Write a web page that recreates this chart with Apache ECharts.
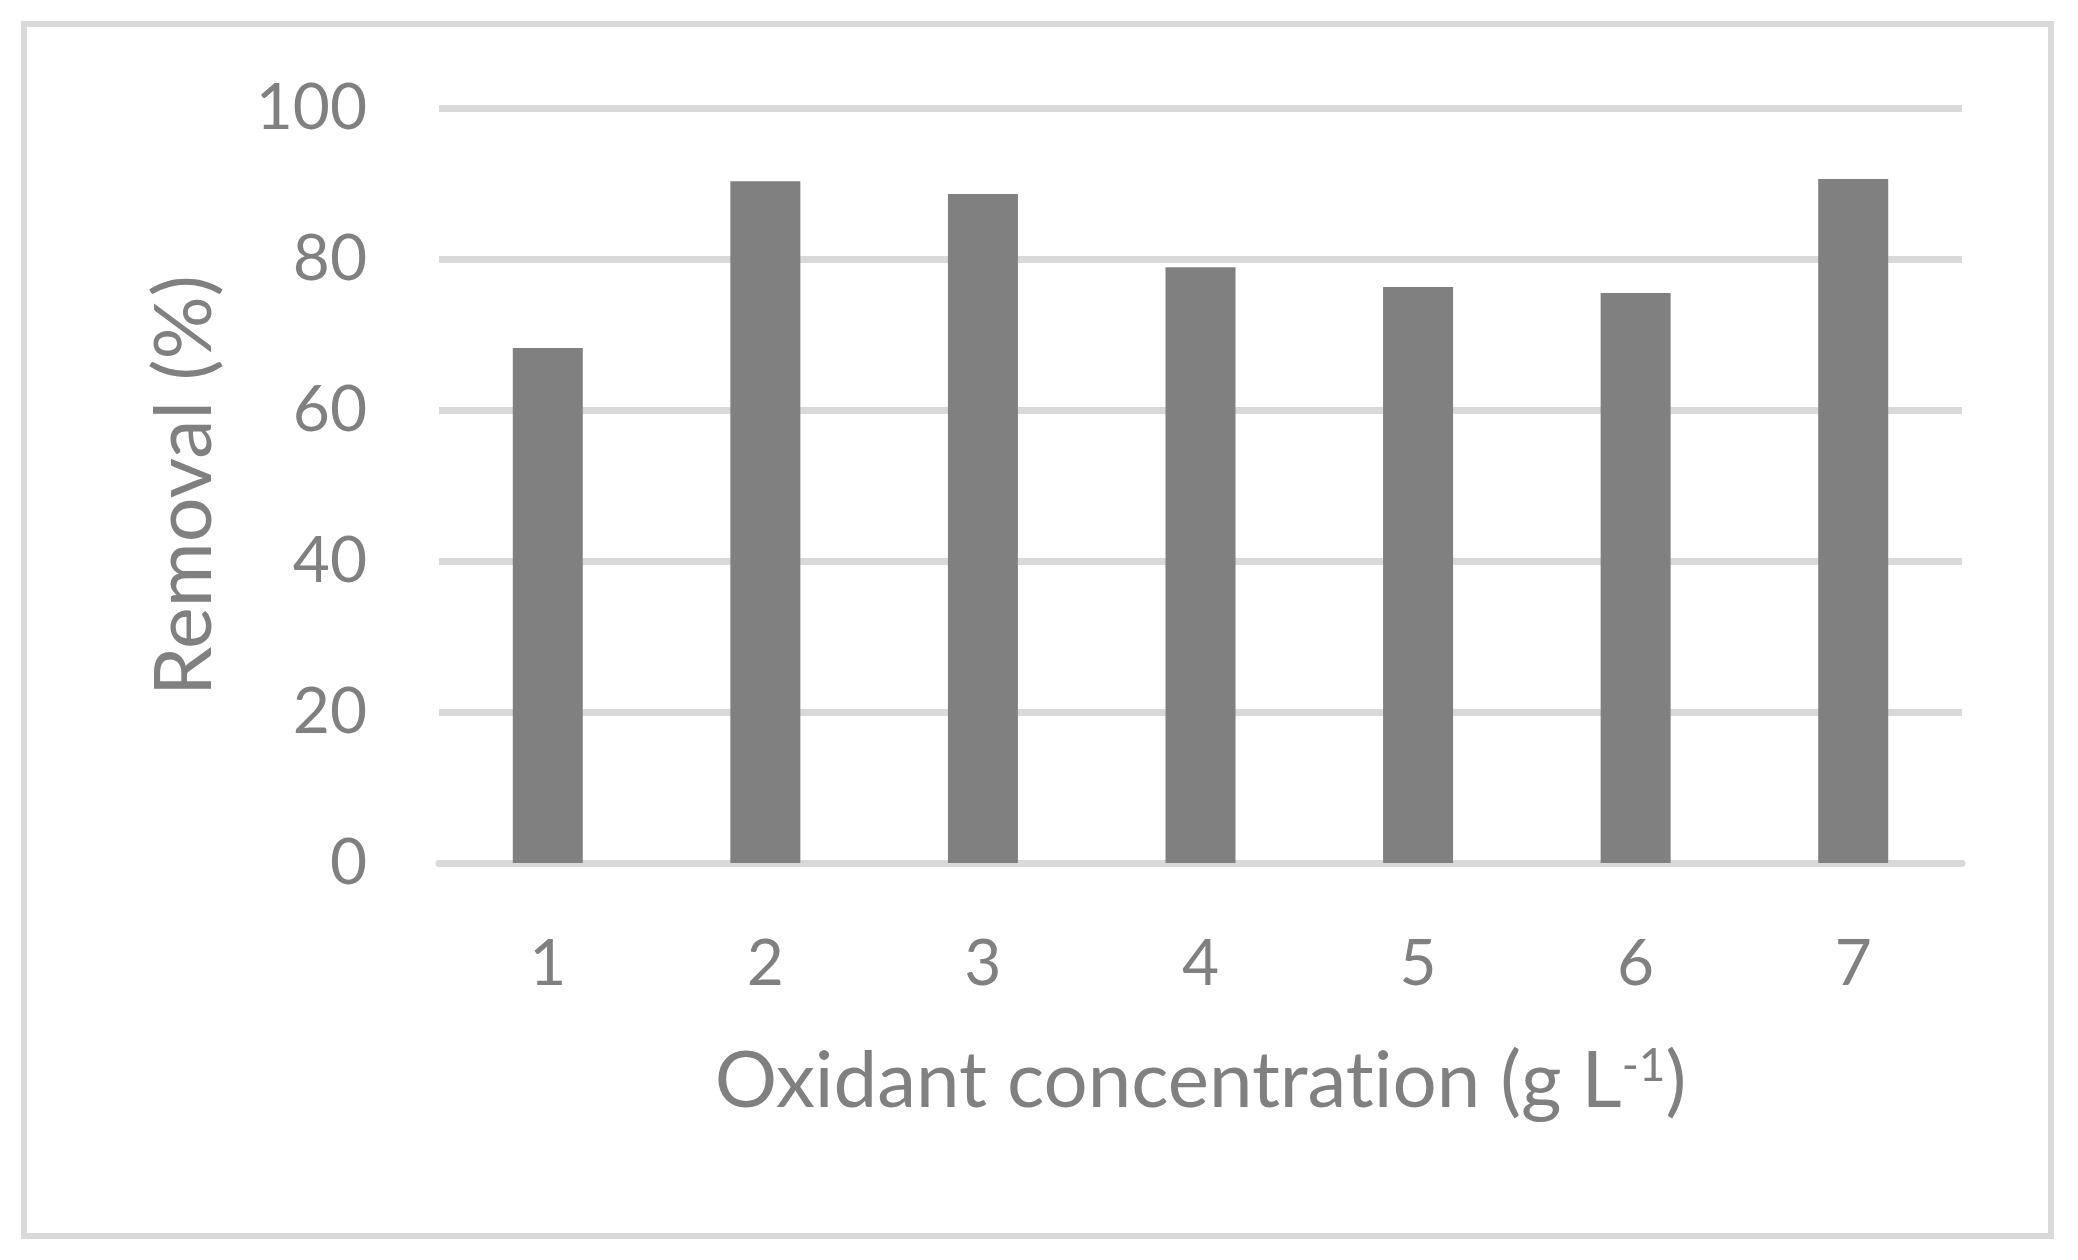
<!DOCTYPE html>
<html>
<head>
<meta charset="utf-8">
<title>Removal vs oxidant concentration</title>
<script src="https://cdn.jsdelivr.net/npm/echarts@6/dist/echarts.min.js"></script>
<style>
    html, body { margin: 0; padding: 0; background: #fff; }
    #removal_chart { width: 2078px; height: 1260px; }
</style>
</head>
<body>
<div id="removal_chart"></div>
<script>
// values
var categories = ['1', '2', '3', '4', '5', '6', '7'];
var removal = [68.2, 90.3, 88.6, 78.9, 76.3, 75.5, 90.6];
var yTicks = [0, 20, 40, 60, 80, 100];

var textGrey = '#808080';
var lineGrey = '#d9d9d9';
var font = 'Lato';

var myChart = echarts.init(document.getElementById('removal_chart'));

var option = {
    animation: false,
    graphic: [
        {
            // outer chart frame
            type: 'rect',
            shape: { x: 24, y: 24, width: 2027, height: 1212 },
            style: { fill: 'none', stroke: lineGrey, lineWidth: 6 }
        }
    ],
    grid: {
        left: 439,
        right: 2078 - 1962,
        top: 108,
        bottom: 1260 - 863,
        containLabel: false
    },
    xAxis: {
        type: 'category',
        data: categories,
        axisTick: { show: false },
        axisLine: { lineStyle: { color: lineGrey, width: 7 } },
        axisLabel: {
            color: textGrey,
            fontFamily: font,
            fontSize: 64,
            margin: 69
        },
        // "ion" is its own fragment so Lato doesn't draw a "ti" ligature
        name: 'Oxidant concentrat{p|ion} (g L{sup|-1})',
        nameLocation: 'middle',
        nameGap: 180,
        nameTextStyle: {
            color: textGrey,
            fontFamily: font,
            fontSize: 78,
            rich: {
                p: {
                    color: textGrey,
                    fontFamily: font,
                    fontSize: 78
                },
                sup: {
                    color: textGrey,
                    fontFamily: font,
                    fontSize: 46,
                    verticalAlign: 'top'
                }
            }
        }
    },
    yAxis: {
        type: 'value',
        min: yTicks[0],
        max: yTicks[yTicks.length - 1],
        interval: yTicks[1] - yTicks[0],
        axisLine: { show: false },
        axisTick: { show: false },
        splitLine: { lineStyle: { color: lineGrey, width: 7 } },
        axisLabel: {
            color: textGrey,
            fontFamily: font,
            fontSize: 64,
            margin: 72
        },
        name: 'Removal (%)',
        nameLocation: 'middle',
        nameGap: 214,
        nameTextStyle: {
            color: textGrey,
            fontFamily: font,
            fontSize: 79
        }
    },
    series: [
        {
            type: 'bar',
            data: removal,
            barWidth: 70,
            itemStyle: { color: '#808080' }
        }
    ]
};
myChart.setOption(option);
window.addEventListener('resize', function () {
    myChart.resize();
});
</script>
</body>
</html>
